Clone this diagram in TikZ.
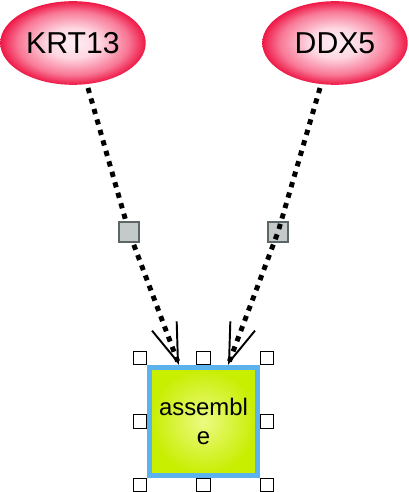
\documentclass[tikz,border=0pt]{standalone}
\usepackage{fontspec}
\setmainfont{Liberation Sans}
\usetikzlibrary{arrows.meta,shapes.geometric}

\definecolor{geneRed}{RGB}{238,24,70}
\definecolor{geneMid}{RGB}{248,120,150}
\definecolor{geneCore}{RGB}{255,238,244}
\definecolor{procGreen}{RGB}{200,238,0}
\definecolor{procCore}{RGB}{236,250,130}
\definecolor{procBlue}{RGB}{92,178,236}
\definecolor{knotGray}{RGB}{196,202,202}
\definecolor{knotEdge}{RGB}{92,102,102}

\pgfdeclareradialshading{geneglow}{\pgfpoint{0bp}{0bp}}{%
  color(0bp)=(geneCore); color(9bp)=(geneCore!80!geneMid); color(19bp)=(geneMid);
  color(25bp)=(geneRed); color(50bp)=(geneRed)}
\pgfdeclareradialshading{procglow}{\pgfpoint{0bp}{0bp}}{%
  color(0bp)=(procCore); color(25bp)=(procGreen); color(50bp)=(procGreen)}

\tikzset{
  gene/.style={ellipse, shading=geneglow, minimum width=82.8pt, minimum height=47.6pt,
    inner sep=0pt, font=\fontsize{17.2}{18}\selectfont},
  process/.style={rectangle, shading=procglow, draw=procBlue, line width=2.8pt,
    minimum size=61.2pt, inner sep=0pt, align=center,
    font=\fontsize{13.6}{16}\selectfont},
  knot/.style={rectangle, fill=knotGray, draw=knotEdge, line width=0.8pt,
    minimum size=11.6pt, inner sep=0pt},
  handle/.style={rectangle, fill=white, draw=black, line width=0.6pt,
    minimum size=7.6pt, inner sep=0pt},
  dotlink/.style={line width=2.8pt, dash pattern=on 3pt off 3.2pt,
    -{Straight Barb[length=22pt, width=15pt, line width=1.1pt]}}
}

\begin{document}
\begin{tikzpicture}[x=0.02cm, y=-0.02cm]
    \useasboundingbox (0,0) rectangle (408,492);

    % Genes
    \node[gene] (krt) at (73,43) {KRT13};
    \node[gene] (ddx) at (335,43) {DDX5};

    % Process
    \node[process] (asm) at (203.5,421.5) {assembl\\e};
    \foreach \a/\b in {north west/south east, north/south, north east/south west,
                       west/east, east/west,
                       south west/north east, south/north, south east/north west}
        \node[handle, anchor=\b] (h-\a) at (asm.\a) {};

    % Links
    \coordinate (k1) at (88,88);
    \coordinate (k2) at (320,88);
    \coordinate (c1) at (129,232);
    \coordinate (c2) at (278,232);
    \coordinate (t1) at (179,365);
    \coordinate (t2) at (228,365);
    \node[knot] (m2) at (c2) {};
    \draw[dotlink] (k1) -- (c1) -- (t1);
    \draw[dotlink] (k2) -- (c2) -- (t2);
    \node[knot] (m1) at (c1) {};
\end{tikzpicture}
\end{document}
